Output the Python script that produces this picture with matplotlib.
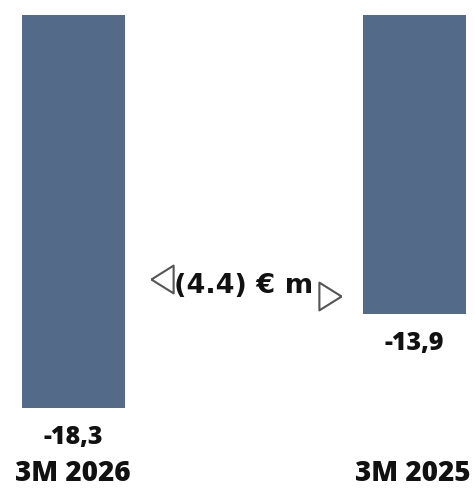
import matplotlib
matplotlib.use("Agg")
import matplotlib.pyplot as plt

categories = ["3M 2026", "3M 2025"]
values = [-18.3, -13.9]
value_labels = ["-18,3", "-13,9"]
delta_label = "(4.4) € m"

bar_color = "#536A88"
plt.rcParams['font.family'] = ['Open Sans', 'DejaVu Sans']

fig = plt.figure(figsize=(4.75, 4.88), dpi=100)
ax = fig.add_axes([0, 0, 1, 1])
ax.set_xlim(-0.216, 1.179)
ax.set_ylim(-22.0, 0.698)
ax.axis('off')

x = list(range(len(categories)))
ax.bar(x, values, width=0.3025, color=bar_color)

for xi, v, lab in zip(x, values, value_labels):
    ax.text(xi, v - 1.36, lab, ha='center', va='center', fontsize=18, fontweight='extra bold', color='#111111')

for xi, c in zip(x, categories):
    ax.text(xi - 0.003, -21.33, c, ha='center', va='center', fontsize=20, fontweight='extra bold', color='#111111')

ax.text(0.498, -12.6, delta_label, ha='center', va='center', fontsize=19.5, fontweight='bold',
        color='#111111', family=['DejaVu Sans'])
left_tri = [(-0.8, 0), (0.8, 1), (0.8, -1), (-0.8, 0)]
right_tri = [(0.8, 0), (-0.8, 1), (-0.8, -1), (0.8, 0)]
ax.plot([0.259], [-12.26], marker=left_tri, markersize=20, markerfacecolor='white',
        markeredgecolor='#555555', markeredgewidth=1.5)
ax.plot([0.752], [-13.07], marker=right_tri, markersize=20, markerfacecolor='white',
        markeredgecolor='#555555', markeredgewidth=1.5)

fig.savefig("out.png", dpi=100)
